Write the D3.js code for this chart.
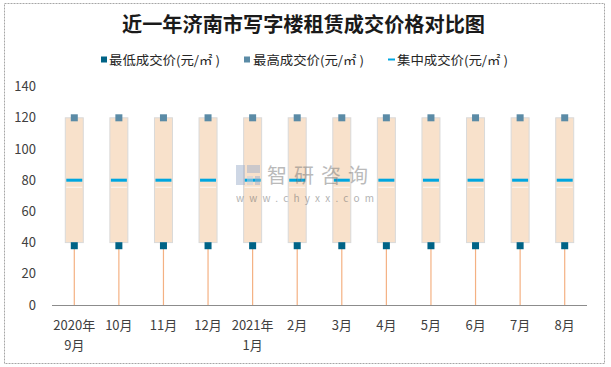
<!DOCTYPE html>
<html><head><meta charset="utf-8">
<script src="https://cdn.jsdelivr.net/npm/d3@7"></script>
<style>body{margin:0;background:#fff}</style>
</head><body><svg id="c" width="611" height="367"></svg>
<script>
const categories = ["2020年\n9月","10月","11月","12月","2021年\n1月","2月","3月","4月","5月","6月","7月","8月"];
const lowValues  = [38,38,38,38,38,38,38,38,38,38,38,38];
const highValues = [120,120,120,120,120,120,120,120,120,120,120,120];
const midValues  = [80,80,80,80,80,80,80,80,80,80,80,80];
const yTicks = [0,20,40,60,80,100,120,140];
const seriesNames = ["最低成交价(元/㎡ )","最高成交价(元/㎡ )","集中成交价(元/㎡ )"];

const svg = d3.select("#c");
const font = "'Noto Sans CJK SC','Noto Sans',sans-serif";
svg.append("rect").attr("x",4.5).attr("y",3.5).attr("width",600).attr("height",360)
  .attr("fill","#fff").attr("stroke","#a6a6a6").attr("stroke-dasharray","2,1");

svg.append("text").attr("x",122).attr("y",32)
  .attr("font-family",font).attr("font-weight","bold").attr("font-size",20).attr("fill","#1a1a1a")
  .attr("textLength",363).attr("lengthAdjust","spacingAndGlyphs")
  .text("近一年济南市写字楼租赁成交价格对比图");

const x = d3.scaleBand().domain(categories).range([52,587]);
const y = d3.scaleLinear().domain([0,140]).range([305,86.6]);

svg.append("g").selectAll("text").data(yTicks).join("text")
  .attr("x",36).attr("y",d=>y(d)+4.5).attr("text-anchor","end")
  .attr("font-family",font).attr("font-size",13).attr("fill","#404040").text(d=>d);

const bw = 18;
const g = svg.append("g");
categories.forEach((c,i)=>{
  const cx = x(c)+x.bandwidth()/2;
  g.append("line").attr("x1",cx).attr("x2",cx).attr("y1",y(0)).attr("y2",y(lowValues[i]))
    .attr("stroke","#F4B183").attr("stroke-width",1.2);
  g.append("rect").attr("x",cx-bw/2).attr("y",y(highValues[i])).attr("width",bw)
    .attr("height",y(lowValues[i]+2)-y(highValues[i]))
    .attr("fill","#F8E1CB").attr("stroke","#d9d9d9").attr("stroke-width",1);
  g.append("line").attr("x1",cx-bw/2+1).attr("x2",cx+bw/2-1).attr("y1",y(75.5)).attr("y2",y(75.5))
    .attr("stroke","#fff").attr("stroke-width",1).attr("opacity",0.8);
  g.append("line").attr("x1",cx-bw/2+1).attr("x2",cx+bw/2-1).attr("y1",y(midValues[i])).attr("y2",y(midValues[i]))
    .attr("stroke","#00A6E0").attr("stroke-width",3);
  g.append("rect").attr("x",cx-3.5).attr("y",y(highValues[i])-3.5).attr("width",7).attr("height",7).attr("fill","#5B8BA6");
  g.append("rect").attr("x",cx-3.5).attr("y",y(lowValues[i])-3.5).attr("width",7).attr("height",7).attr("fill","#006386");
});

// watermark (on top)
const wm = svg.append("g").attr("opacity",0.5);
wm.append("rect").attr("x",236).attr("y",165).attr("width",9).attr("height",20).attr("fill","#9fb0cc");
wm.append("rect").attr("x",247).attr("y",165).attr("width",13).attr("height",8).attr("fill","#9fb0cc");
wm.append("rect").attr("x",247).attr("y",176).attr("width",6).attr("height",9).attr("fill","#c5d0e0");
wm.append("rect").attr("x",255).attr("y",176).attr("width",5).attr("height",9).attr("fill","#9fb0cc");
wm.append("text").attr("x",267).attr("y",183).attr("font-family",font).attr("font-size",20).attr("fill","#777").attr("letter-spacing",7).text("智研咨询");
wm.append("text").attr("x",236).attr("y",202).attr("font-family",font).attr("font-size",10).attr("fill","#666")
  .attr("textLength",138).attr("lengthAdjust","spacing").text("www.chyxx.com");

svg.append("line").attr("x1",52).attr("x2",587).attr("y1",305.5).attr("y2",305.5).attr("stroke","#8c8c8c");

svg.append("g").selectAll("text").data(categories).join("text")
  .attr("font-family",font).attr("font-size",13).attr("fill","#404040").attr("text-anchor","middle")
  .each(function(d){
    const t = d3.select(this); const cx = x(d)+x.bandwidth()/2;
    d.split("\n").forEach((s,k)=>t.append("tspan").attr("x",cx).attr("y",330+k*20).text(s));
  });

const lg = svg.append("g").attr("font-family",font).attr("font-size",12.5).attr("fill","#262626");
lg.append("rect").attr("x",101).attr("y",56.5).attr("width",6).attr("height",6).attr("fill","#006386");
lg.append("text").attr("x",109).attr("y",64.5).attr("textLength",111).attr("lengthAdjust","spacingAndGlyphs").text(seriesNames[0]);
lg.append("rect").attr("x",244).attr("y",56.5).attr("width",6).attr("height",6).attr("fill","#5B8BA6");
lg.append("text").attr("x",253).attr("y",64.5).attr("textLength",111).attr("lengthAdjust","spacingAndGlyphs").text(seriesNames[1]);
lg.append("line").attr("x1",388).attr("x2",395).attr("y1",59.5).attr("y2",59.5).attr("stroke","#00A6E0").attr("stroke-width",2);
lg.append("text").attr("x",397).attr("y",64.5).attr("textLength",111).attr("lengthAdjust","spacingAndGlyphs").text(seriesNames[2]);
</script></body></html>
